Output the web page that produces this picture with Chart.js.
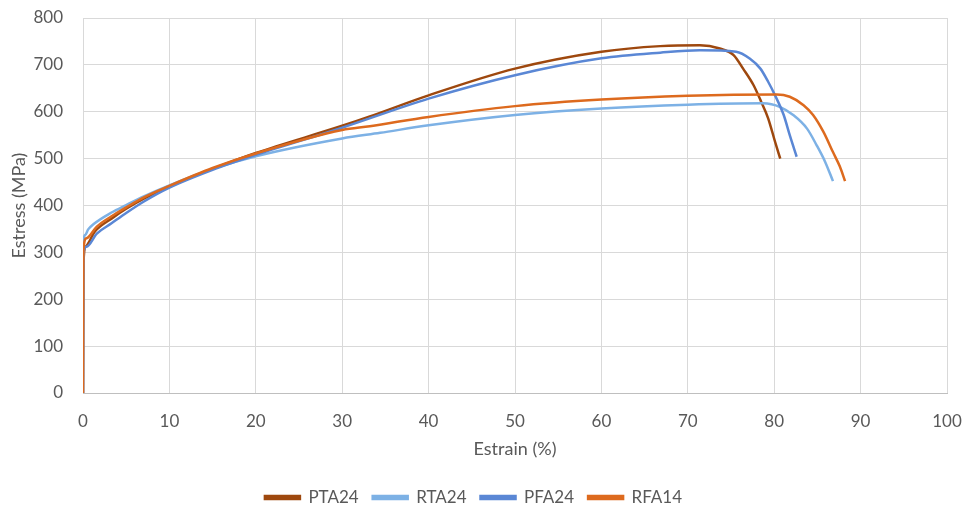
<!DOCTYPE html>
<html>
<head>
<meta charset="utf-8">
<script src="https://cdn.jsdelivr.net/npm/chart.js@4.4.1/dist/chart.umd.min.js"></script>
<style>
  html, body { margin: 0; padding: 0; background: #fff; }
  #wrap { width: 964px; height: 510px; }
</style>
</head>
<body>
<div id="wrap"><canvas id="myChart" width="964" height="510"></canvas></div>
<script>
// values (strain %, stress MPa)
const seriesNames = ["PTA24", "RTA24", "PFA24", "RFA14"];
const seriesColors = ["#9E480E", "#7DB1E5", "#5A87D5", "#DD6A1E"];

const ptaStrain = [0, 0.05, 0.3, 1.4, 3.3, 5, 7.1, 10, 15, 20, 30, 33.2, 40, 50, 60, 66.8, 71.4, 73.7, 75.3, 76.4, 77.6, 78.5, 79.3, 80.1, 80.7];
const ptaStress = [0, 275, 312, 345, 372, 393, 415, 440, 478, 512, 570, 590, 635, 692, 728, 740, 742, 735, 721, 692, 657, 621, 586, 536, 500];

const rtaStrain = [0, 0.05, 0.25, 0.6, 1.2, 3.3, 5, 7.1, 10, 15, 20, 30, 34.4, 40, 50, 60, 70, 78.7, 80.7, 82.2, 83.8, 84.9, 85.9, 86.8];
const rtaStress = [0, 318, 337, 349, 360, 385, 401, 420, 443, 478, 505, 543, 555, 571, 593, 607, 615, 618, 610, 593, 564, 529, 493, 452];

const pfaStrain = [0, 0.05, 0.4, 1.6, 3.3, 5, 7.1, 10, 15, 20, 30, 40, 50, 60, 66.8, 71.4, 75.6, 77.2, 78.4, 79.3, 80.1, 81.1, 81.8, 82.6];
const pfaStress = [0, 298, 312, 340, 362, 384, 409, 438, 476, 508, 566, 628, 678, 714, 726, 731, 728, 713, 692, 664, 635, 593, 550, 504];

const rfaStrain = [0, 0.05, 0.4, 1.6, 3.3, 5, 7.1, 10, 15, 20, 30, 33.2, 40, 50, 60, 70, 80.3, 81.8, 83.4, 84.5, 85.7, 86.8, 87.6, 88.2];
const rfaStress = [0, 305, 330, 355, 377, 396, 418, 442, 480, 511, 561, 569, 589, 612, 626, 634, 637, 632, 614, 593, 557, 514, 483, 452];

const xTicks = [0, 10, 20, 30, 40, 50, 60, 70, 80, 90, 100];
const yTicks = [0, 100, 200, 300, 400, 500, 600, 700, 800];

function toPoints(xs, ys) {
  return xs.map((x, i) => ({ x: x, y: ys[i] }));
}

const allStrain = [ptaStrain, rtaStrain, pfaStrain, rfaStrain];
const allStress = [ptaStress, rtaStress, pfaStress, rfaStress];

const datasets = seriesNames.map((name, i) => ({
  label: name,
  data: toPoints(allStrain[i], allStress[i]),
  borderColor: seriesColors[i],
  backgroundColor: seriesColors[i],
  borderWidth: 2.5,
  pointRadius: 0,
  showLine: true,
  cubicInterpolationMode: "monotone",
  // later series drawn on top, like the original
  order: seriesNames.length - 1 - i,
}));

const textColor = "#595959";
const fontFamily = "Lato, 'Open Sans', sans-serif";

const ctx = document.getElementById("myChart").getContext("2d");
const myChart = new Chart(ctx, {
  type: "scatter",
  data: { datasets: datasets },
  options: {
    responsive: false,
    animation: false,
    layout: { padding: { left: 0, right: 17, top: 18, bottom: -6 } },
    scales: {
      x: {
        type: "linear",
        min: 0,
        max: 100,
        afterBuildTicks: (scale) => { scale.ticks = xTicks.map((v) => ({ value: v })); },
        // fixed box so the plot area lands where the reference has it
        afterFit: (scale) => {
          scale.height = 82;
          scale.paddingLeft = 0;
          scale.paddingRight = 0;
        },
        ticks: { color: textColor, font: { family: fontFamily, size: 17 }, padding: 18 },
        grid: { color: "#d9d9d9", lineWidth: 1, drawTicks: false },
        border: { color: "#bfbfbf", width: 1 },
        title: { display: true, text: "Estrain (%)", color: textColor, font: { family: fontFamily, size: 18 }, padding: { top: 0, bottom: 15 } },
      },
      y: {
        type: "linear",
        min: 0,
        max: 800,
        afterBuildTicks: (scale) => { scale.ticks = yTicks.map((v) => ({ value: v })); },
        afterFit: (scale) => {
          scale.width = 83;
          scale.paddingTop = 0;
          scale.paddingBottom = 0;
        },
        ticks: { color: textColor, font: { family: fontFamily, size: 17 }, padding: 20 },
        grid: { color: "#d9d9d9", lineWidth: 1, drawTicks: false },
        border: { display: false },
        title: { display: true, text: "Estress (MPa)", color: textColor, font: { family: fontFamily, size: 18 }, padding: { top: 8, bottom: 0 } },
      },
    },
    plugins: {
      legend: {
        position: "bottom",
        labels: {
          color: textColor,
          font: { family: fontFamily, size: 17 },
          boxWidth: 35,
          boxHeight: 3,
          padding: 14,
          sort: (a, b) => a.datasetIndex - b.datasetIndex,
        },
      },
      tooltip: { enabled: false },
    },
  },
});
</script>
</body>
</html>
